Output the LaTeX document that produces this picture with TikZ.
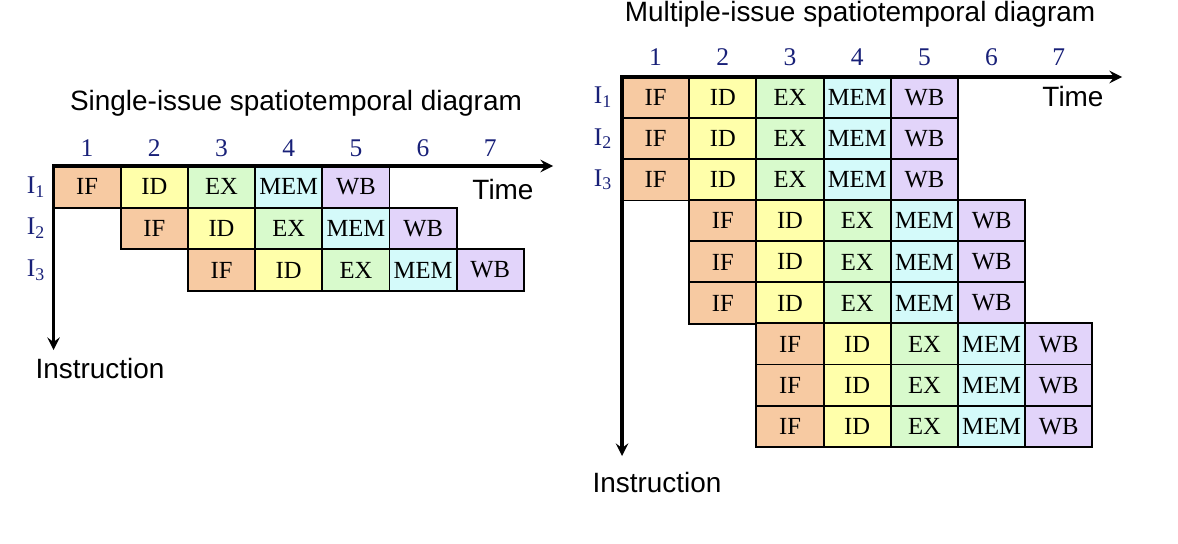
\documentclass[tikz,border=0pt]{standalone}
\usepackage{fontspec}
\setmainfont{Liberation Serif}
\setsansfont{Liberation Sans}
\usepackage{tikz}
\usetikzlibrary{arrows}
\definecolor{ifcolor}{RGB}{247,202,162}
\definecolor{idcolor}{RGB}{255,255,170}
\definecolor{excolor}{RGB}{216,250,204}
\definecolor{memcolor}{RGB}{212,250,250}
\definecolor{wbcolor}{RGB}{226,212,250}
\definecolor{navy}{RGB}{24,32,120}
\tikzstyle{cell} = [rectangle, minimum width=1.344cm, minimum height=0.83cm, inner sep=0pt, outer sep=0pt, text centered, draw=black, line width=1.1pt, font=\fontsize{14}{16}\selectfont]
\tikzstyle{num} = [text=navy, inner sep=0pt, font=\fontsize{14.5}{17}\selectfont]
\tikzstyle{axistext} = [inner sep=0pt, font=\sffamily\fontsize{15.9}{19}\selectfont]
\tikzstyle{arrow} = [line width=2.1pt,<->,>=stealth]

\begin{document}
\begin{tikzpicture}[x=0.02cm, y=-0.02cm]
	\useasboundingbox (0,0) rectangle (1178,544);
	% single-issue
	\node(title1) [axistext] at (296,103) {Single-issue spatiotemporal diagram};
	\foreach \r in {1,2,3}
		\foreach \s/\col [count=\k] in {IF/ifcolor, ID/idcolor, EX/excolor, MEM/memcolor, WB/wbcolor}
			\node(s\r\k) [cell, fill=\col] at ({53.5+67.2*(\r+\k-1.5)}, {166+41.6*(\r-0.5)}) {\s};
	\foreach \c in {1,...,7}
		\node(num1\c) [num] at ({53.5+67.2*(\c-0.5)}, 148) {\c};
	\foreach \r in {1,2,3}
		\node(ins1\r) [num] at (36, {166+41.6*(\r-0.5)}) {I\textsubscript{\r}};
	\coordinate(o1) at (53.5,166);
	\coordinate(time1) at (553,166);
	\coordinate(inst1) at (53.5,350);
	\draw[arrow] (time1) -- (o1) -- (inst1);
	\node(timetext1) [axistext] at (503,190) {Time};
	\node(insttext1) [axistext] at (100,369) {Instruction};
	
	% multiple-issue
	\node(title2) [axistext] at (860,14) {Multiple-issue spatiotemporal diagram};
	\foreach \r [evaluate=\r as \g using {int((\r+2)/3)}] in {1,...,9}
		\foreach \s/\col [count=\k] in {IF/ifcolor, ID/idcolor, EX/excolor, MEM/memcolor, WB/wbcolor}
			\node(m\r\k) [cell, fill=\col] at ({622+67.2*(\g+\k-1.5)}, {77+41.1*(\r-0.5)}) {\s};
	\foreach \c in {1,...,7}
		\node(num2\c) [num] at ({622+67.2*(\c-0.5)}, 57) {\c};
	\foreach \r in {1,2,3}
		\node(ins2\r) [num] at (603, {77+41.1*(\r-0.5)}) {I\textsubscript{\r}};
	\coordinate(o2) at (622,77);
	\coordinate(time2) at (1122,77);
	\coordinate(inst2) at (622,456);
	\draw[arrow] (time2) -- (o2) -- (inst2);
	\node(timetext2) [axistext] at (1073,97) {Time};
	\node(insttext2) [axistext] at (657,483) {Instruction};
\end{tikzpicture}
\end{document}
